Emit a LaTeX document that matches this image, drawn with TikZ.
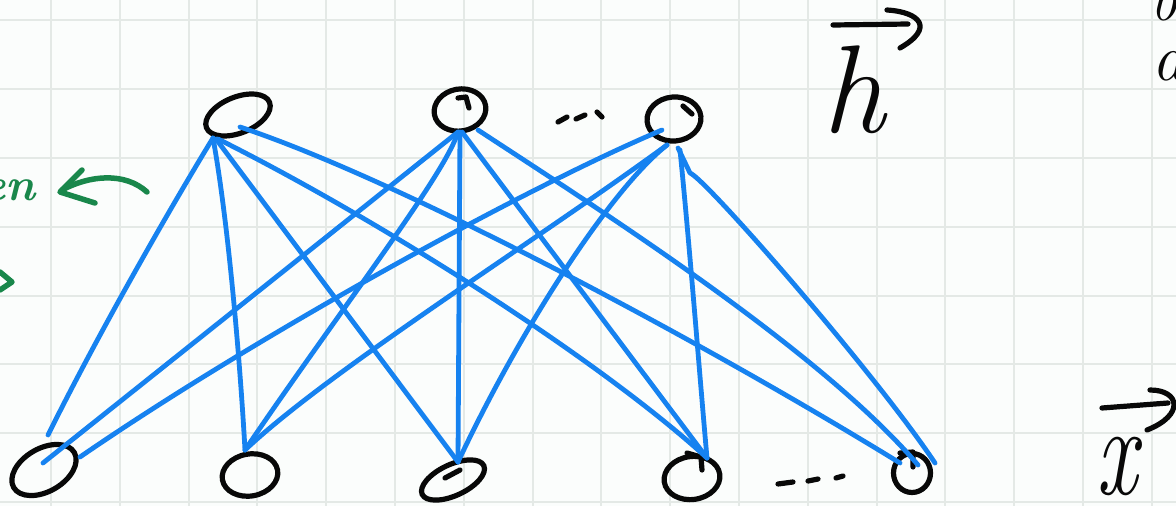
\documentclass[tikz,border=0pt]{standalone}
\usepackage{fontspec}
\usetikzlibrary{shapes.geometric,calc}
\definecolor{bg}{RGB}{251,253,252}
\definecolor{gridc}{RGB}{228,233,230}
\definecolor{edgeblue}{RGB}{22,130,240}
\definecolor{penc}{RGB}{8,8,8}
\definecolor{greenpen}{RGB}{25,135,75}
\begin{document}
\begin{tikzpicture}[x=1pt,y=-1pt,
  unit/.style={draw=penc, ellipse, line width=5.2pt, inner sep=0pt, outer sep=0pt},
  wire/.style={draw=edgeblue, line width=4.8pt, line cap=round, line join=round},
  ink/.style={draw=penc, line width=5.2pt, line cap=round, line join=round},
  greenink/.style={draw=greenpen, line width=5.5pt, line cap=round, line join=round},
  lbl/.style={text=penc, inner sep=0pt, outer sep=0pt},
  gridline/.style={draw=gridc, line width=2pt}]
\useasboundingbox (0,0) rectangle (1176,506);
\fill[bg] (0,0) rectangle (1176,506);
\foreach \i in {0,...,16} \draw[gridline] ({51+68.8*\i},0) -- ({51+68.8*\i},506);
\foreach \j in {0,...,7} \draw[gridline] (0,{20.3+68.8*\j}) -- (1176,{20.3+68.8*\j});

% hidden units
\node[unit, minimum width=68pt, minimum height=36pt, rotate=22] (t1) at (238,115) {};
\node[unit, minimum width=52pt, minimum height=42pt, rotate=10] (t2) at (460,110) {};
\node[unit, minimum width=54pt, minimum height=44pt, rotate=5] (t3) at (674,119) {};
% visible units
\node[unit, minimum width=70pt, minimum height=43pt, rotate=30] (b1) at (44,470) {};
\node[unit, minimum width=56pt, minimum height=42pt, rotate=10] (b2) at (250,475) {};
\node[unit, minimum width=68pt, minimum height=31pt, rotate=25] (b3) at (453,480) {};
\node[unit, minimum width=56pt, minimum height=43pt, rotate=8] (b4) at (692,478) {};
\node[unit, minimum width=37pt, minimum height=39pt] (b5) at (912,473) {};

% pen ticks inside units
\draw[ink] (458,98) -- (466,97) -- (469,108);
\draw[ink] (683,106) -- (692,114);
\draw[ink] (445,478) -- (460,470);
\draw[ink] (687,453) -- (701,457) -- (702,470);
\draw[ink] (900,453) -- (913,452) -- (913,467);

% dots
\draw[ink] (558,122) -- (567,117);
\draw[ink] (576,119) -- (585,115);
\draw[ink] (597,112) -- (602,117);
\draw[ink] (778,484) -- (793,482);
\draw[ink] (808,481) -- (818,479);
\draw[ink] (836,478) -- (843,476);

% connectors from hidden unit 1
\draw[wire] ($(t1)+(-25,23)$) .. controls +(-38,62) and +(52,-105) .. ($(b1)+(4,-35)$);
\draw[wire] ($(t1)+(-25,23)$) .. controls +(15,82) and +(-5,-90) .. ($(b2)+(-5,-25)$);
\draw[wire] ($(t1)+(-22,24)$) -- ($(b3)+(5,-18)$);
\draw[wire] ($(t1)+(-20,24)$) .. controls +(162,81) and +(-107,-98) .. ($(b4)+(15,-20)$);
\draw[wire] ($(t1)+(2,12)$) .. controls +(160,53) and +(-200,-123) .. ($(b5)+(-12,-10)$);
% connectors from hidden unit 2
\draw[wire] ($(t2)+(-2,22)$) -- ($(b1)+(-1,-7)$);
\draw[wire] ($(t2)+(-2,22)$) .. controls +(-13,43) and +(95,-140) .. ($(b2)+(-5,-25)$);
\draw[wire] ($(t2)+(0,22)$) -- ($(b3)+(5,-18)$);
\draw[wire] ($(t2)+(2,22)$) -- ($(b4)+(15,-20)$);
\draw[wire] ($(t2)+(18,20)$) .. controls +(122,80) and +(-98,-115) .. ($(b5)+(6,-8)$);
% connectors from hidden unit 3
\draw[wire] ($(t3)+(-12,11)$) .. controls +(-142,60) and +(170,-117) .. ($(b1)+(36,-13)$);
\draw[wire] ($(t3)+(-7,26)$) .. controls +(-137,100) and +(85,-80) .. ($(b2)+(-5,-25)$);
\draw[wire] ($(t3)+(-7,26)$) .. controls +(-57,45) and +(62,-132) .. ($(b3)+(5,-18)$);
\draw[wire] ($(t3)+(6,31)$) .. controls +(10,100) and +(-7,-78) .. ($(b4)+(15,-20)$);
\draw[wire] ($(t3)+(4,29)$) -- ++(12,25) .. controls +(15,5) and +(-60,-90) .. ($(b5)+(23,-10)$);

% labels
\node[lbl, anchor=base west, font=\fontsize{125}{125}\selectfont\itshape] (hl) at (822,132) {h};
\draw[ink] (833,25) -- (908,24);
\draw[ink] (887,10) .. controls (920,12) and (935,28) .. (900,48);
\node[lbl, anchor=base west, font=\fontsize{130}{130}\selectfont\itshape] (xl) at (1096,494) {\scalebox{0.7}[1]{x}};
\draw[ink] (1102,408) -- (1168,403);
\draw[ink] (1150,390) .. controls (1180,390) and (1185,415) .. (1147,430);
\node[lbl, anchor=base west, font=\fontsize{60}{60}\selectfont\itshape] (bl) at (1150,20) {b};
\node[lbl, anchor=base west, font=\fontsize{66}{66}\selectfont\itshape] (al) at (1152,80) {a};

% green annotations
\node[anchor=base east, inner sep=0pt, text=greenpen, font=\fontsize{46}{46}\selectfont\bfseries\itshape] (hid) at (36,200) {en};
\draw[greenink] (147,192) .. controls (125,172) and (90,175) .. (62,190);
\draw[greenink] (82,170) -- (60,192) -- (95,203);
\draw[greenink] (0,272) -- (12,282) -- (0,290);
\end{tikzpicture}
\end{document}
